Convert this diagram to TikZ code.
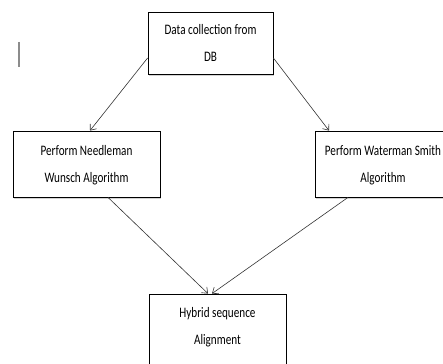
\documentclass[tikz,border=0pt]{standalone}
\usepackage{fontspec}
\setmainfont{Carlito}
\usetikzlibrary{arrows.meta,shadows}
\newcommand{\flowtext}[1]{\scalebox{0.77}[1]{\begin{tabular}{@{}c@{}}#1\end{tabular}}}
\begin{document}
\begin{tikzpicture}[x=1pt,y=1pt,
  flowbox/.style={draw=black,line width=0.8pt,fill=white,rectangle,inner sep=0pt,
    font=\fontsize{14.5}{27}\selectfont,
    drop shadow={shadow xshift=0.6pt,shadow yshift=-1.6pt,opacity=0.35}},
  flowarrow/.style={draw=black!80,line width=0.6pt,-{Straight Barb[length=5pt,width=8pt]}}]
\useasboundingbox (0,0) rectangle (443,363);
\draw[black!45,line width=1.2pt] (19,321) -- (19,296);
\node[flowbox,minimum width=125pt,minimum height=62pt] (collect) at (210.5,320) {\flowtext{Data collection from\\DB}};
\node[flowbox,minimum width=147pt,minimum height=66pt] (needle) at (86.5,199) {\flowtext{Perform Needleman\\Wunsch Algorithm}};
\node[flowbox,minimum width=136pt,minimum height=66pt] (smith) at (383,199) {\flowtext{Perform Waterman Smith\\Algorithm}};
\node[flowbox,minimum width=137pt,minimum height=76pt] (hybrid) at (217.5,31) {\raisebox{2.4pt}[0pt][0pt]{\flowtext{Hybrid sequence\\Alignment}}};
\draw[flowarrow] ([yshift=-15pt]collect.west) -- ([xshift=3.5pt]needle.north);
\draw[flowarrow] ([yshift=-15pt]collect.east) -- ([xshift=-54pt]smith.north);
\draw[flowarrow] ([xshift=21.5pt]needle.south) -- ([xshift=-9.5pt]hybrid.north);
\draw[flowarrow] ([xshift=-35pt]smith.south) -- ([xshift=-5.5pt]hybrid.north);
\end{tikzpicture}
\end{document}
